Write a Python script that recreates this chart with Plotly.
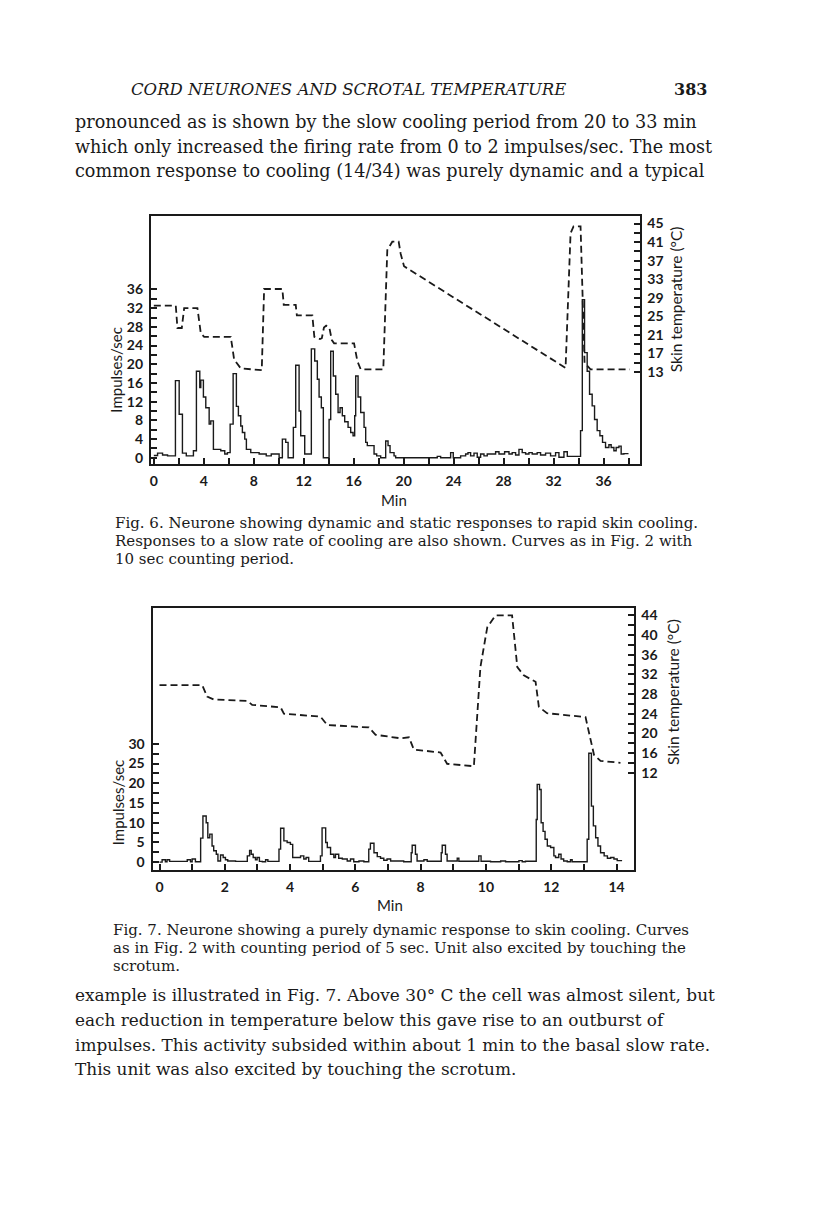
import plotly.graph_objects as go

W, H = 816, 1215

# ---- Fig. 6 data (min, impulses/sec as 10 s counts; skin temperature) ----
f6_imp_t = [0.0, 0.3, 0.7, 1.1, 1.73, 2.03, 2.29, 2.6, 3.17, 3.41, 3.68, 3.76, 3.97, 4.16,
            4.43, 4.56, 4.77, 5.36, 5.68, 5.89, 6.11, 6.35, 6.61, 6.77, 6.96, 7.09, 7.28,
            7.41, 7.76, 8.43, 9.0, 9.4, 9.89, 10.03, 10.29, 10.56, 10.75, 11.17, 11.36,
            11.63, 11.76, 12.08, 12.61, 12.88, 13.09, 13.23, 13.41, 13.57, 14.03, 14.16,
            14.37, 14.56, 14.75, 14.91, 15.09, 15.28, 15.55, 15.76, 15.95, 16.08, 16.16,
            16.35, 16.56, 16.83, 16.96, 17.09, 17.63, 17.84, 18.16, 18.56, 18.75, 18.91,
            19.23, 19.36, 22.69, 22.96, 23.76, 23.97, 24.56, 24.96, 25.15, 25.36, 25.63,
            25.89, 26.16, 26.43, 26.69, 27.36, 27.63, 28.08, 28.43, 28.69, 28.96, 29.23,
            29.49, 29.76, 30.03, 30.29, 30.69, 30.96, 31.36, 31.76, 32.16, 32.43, 32.83,
            33.1, 34.16, 34.3, 34.48, 34.69, 34.88, 35.09, 35.28, 35.49, 35.71, 35.92,
            36.16, 36.43, 36.61, 36.83, 37.01, 37.23, 37.41, 37.63, 38.0]
f6_imp_v = [0.5, 1.0, 0.6, 0.4, 16.5, 9.3, 1.0, 0.4, 1.5, 18.5, 15.0, 16.6, 13.0, 10.7,
            7.2, 7.9, 1.8, 1.5, 0.8, 1.1, 7.2, 18.0, 11.0, 9.0, 6.8, 5.4, 4.0,
            1.8, 1.1, 0.8, 0.4, 0.8, 0.8, 0.0, 4.0, 3.3, 0.0, 6.5, 19.8,
            10.0, 4.7, 0.8, 23.3, 20.7, 16.8, 13.0, 10.7, 0.0, 8.2, 22.8,
            17.5, 13.6, 9.7, 10.7, 9.0, 7.7, 6.5, 5.4, 4.7, 9.0, 17.5,
            13.0, 9.7, 6.5, 3.3, 2.6, 0.8, 0.4, 0.0, 3.6, 2.6, 1.1,
            0.4, 0.0, 0.3, 0.0, 1.1, 0.0, 0.4, 0.8, 1.1, 0.4, 1.0,
            0.1, 0.8, 0.4, 0.8, 1.3, 0.8, 1.3, 0.8, 1.1, 0.6, 1.8,
            1.1, 0.8, 1.1, 0.8, 1.1, 0.6, 1.0, 0.4, 1.1, 0.1, 1.3,
            0.3, 5.8, 33.8, 22.5, 18.5, 13.6, 11.1, 8.2, 5.8, 4.7, 3.3,
            2.2, 2.8, 2.2, 1.5, 2.2, 2.5, 0.8, 0.9, 0.9]

f6_temp_t = [0.0, 1.76, 1.89, 2.24, 2.43, 3.49, 3.76, 4.03, 6.16, 6.43, 6.96, 8.64, 8.83,
             10.29, 10.4, 11.36, 11.45, 12.69, 12.85, 13.3, 13.45, 13.62, 13.8, 14.05,
             14.25, 14.43, 16.03, 16.29, 16.56, 18.37, 18.69, 19.09, 19.6, 19.76, 20.03,
             32.96, 33.36, 33.6, 34.16, 34.48, 34.96, 38.11]
f6_temp_v = [27.3, 27.3, 22.5, 22.5, 26.8, 26.8, 21.4, 20.6, 20.6, 15.7, 13.8, 13.4, 30.9,
             30.9, 27.5, 27.5, 25.2, 25.2, 20.6, 20.1, 20.3, 22.6, 23.0, 22.6,
             19.9, 19.2, 19.2, 15.4, 13.6, 13.6, 39.3, 41.1, 41.1, 38.5, 35.8,
             13.9, 42.9, 44.4, 44.4, 15.0, 13.6, 13.6]

# ---- Fig. 7 data (5 s counting period) ----
f7_imp_t = [0.0, 0.08, 0.18, 0.23, 0.31, 0.85, 0.95, 1.0, 1.1, 1.26, 1.33, 1.43, 1.48, 1.54,
            1.61, 1.66, 1.74, 1.79, 1.87, 1.95, 2.02, 2.09, 2.33, 2.69, 2.76, 2.81, 2.87,
            2.94, 2.99, 3.06, 3.15, 3.25, 3.32, 3.66, 3.71, 3.81, 3.91, 4.01, 4.08, 4.32,
            4.42, 4.49, 4.57, 4.93, 4.98, 5.09, 5.14, 5.24, 5.34, 5.39, 5.49, 5.6, 5.75,
            5.85, 5.95, 6.11, 6.26, 6.41, 6.46, 6.57, 6.67, 6.77, 6.87, 6.97, 7.08, 7.48,
            7.71, 7.74, 7.84, 7.89, 8.1, 8.2, 8.63, 8.66, 8.76, 8.81, 9.12, 9.17, 9.78,
            9.85, 10.14, 10.45, 10.6, 11.01, 11.11, 11.21, 11.54, 11.57, 11.64, 11.69,
            11.75, 11.81, 11.88, 11.98, 12.08, 12.13, 12.23, 12.3, 12.38, 12.49, 12.59,
            12.64, 13.1, 13.15, 13.23, 13.29, 13.36, 13.43, 13.51, 13.62, 13.72, 13.82,
            13.92, 14.02, 14.17]
f7_imp_v = [0.0, 0.6, 0.1, 0.6, 0.2, 0.6, 0.1, 0.8, 0.1, 6.1, 11.7, 10.0, 6.2, 7.1,
            4.1, 2.9, 2.0, 0.3, 1.8, 1.2, 0.6, 0.3, 0.2, 1.6, 3.0, 2.0, 1.2,
            0.6, 1.2, 0.2, 0.1, 0.6, 0.2, 3.3, 8.6, 5.4, 5.0, 4.5, 1.2, 1.6,
            0.8, 1.2, 0.2, 1.6, 8.7, 5.0, 3.7, 2.0, 1.2, 2.0, 1.0, 0.8, 0.3,
            0.8, 0.1, 0.3, 0.1, 3.3, 4.8, 2.4, 1.4, 1.0, 0.5, 0.8, 0.3, 0.1,
            2.4, 4.3, 2.0, 0.3, 0.6, 0.25, 2.4, 4.3, 2.0, 0.3, 1.0, 0.25, 1.6,
            0.25, 0.1, 0.3, 0.1, 0.4, 0.1, 0.25, 10.8, 19.7, 18.4, 10.0,
            7.8, 5.8, 4.1, 3.7, 1.6, 1.2, 2.0, 0.8, 0.3, 0.1, 0.6,
            0.1, 5.8, 27.6, 14.2, 9.2, 6.2, 4.1, 2.4, 1.6, 1.0, 1.2,
            0.8, 0.4, 0.4]

f7_temp_t = [0.0, 1.31, 1.46, 1.66, 2.69, 2.84, 3.71, 3.81, 4.93, 5.14, 6.41, 6.62, 7.38,
             7.64, 7.79, 8.61, 8.81, 9.63, 9.83, 10.04, 10.29, 10.8, 10.96, 11.16, 11.52,
             11.62, 11.87, 13.05, 13.31, 13.51, 14.12]
f7_temp_v = [29.8, 29.8, 27.5, 26.9, 26.6, 25.8, 25.3, 24.0, 23.4, 21.7, 21.2, 19.7, 19.0,
             19.2, 16.7, 16.1, 13.8, 13.3, 33.5, 41.6, 44.0, 44.0, 33.5, 31.8, 30.5,
             25.4, 24.1, 23.3, 15.6, 14.4, 14.0]

f6_imp_ticks = [0, 4, 8, 12, 16, 20, 24, 28, 32, 36]
f6_temp_ticks = [13, 17, 21, 25, 29, 33, 37, 41, 45]
f6_min_ticks = [0, 4, 8, 12, 16, 20, 24, 28, 32, 36]
f7_imp_ticks = [0, 5, 10, 15, 20, 25, 30]
f7_temp_ticks = [12, 16, 20, 24, 28, 32, 36, 40, 44]
f7_min_ticks = [0, 2, 4, 6, 8, 10, 12, 14]

header = "CORD NEURONES AND SCROTAL TEMPERATURE"
page_no = "383"
top_lines = [
    "pronounced as is shown by the slow cooling period from 20 to 33 min",
    "which only increased the firing rate from 0 to 2 impulses/sec. The most",
    "common response to cooling (14/34) was purely dynamic and a typical",
]
cap6 = [
    "Fig. 6. Neurone showing dynamic and static responses to rapid skin cooling.",
    "Responses to a slow rate of cooling are also shown. Curves as in Fig. 2 with",
    "10 sec counting period.",
]
cap7 = [
    "Fig. 7. Neurone showing a purely dynamic response to skin cooling. Curves",
    "as in Fig. 2 with counting period of 5 sec. Unit also excited by touching the",
    "scrotum.",
]
bottom_lines = [
    "example is illustrated in Fig. 7. Above 30° C the cell was almost silent, but",
    "each reduction in temperature below this gave rise to an outburst of",
    "impulses. This activity subsided within about 1 min to the basal slow rate.",
    "This unit was also excited by touching the scrotum.",
]

INK = "#1a1a1a"
SANS = "Lato"
SERIF = "DejaVu Serif"

fig = go.Figure()
fig.add_trace(go.Scatter(x=f6_imp_t, y=f6_imp_v, mode="lines", line_shape="hv",
                         line=dict(color=INK, width=1.4), xaxis="x", yaxis="y"))
fig.add_trace(go.Scatter(x=f6_temp_t, y=f6_temp_v, mode="lines",
                         line=dict(color=INK, width=1.8, dash="7px,4px"), xaxis="x", yaxis="y2"))
fig.add_trace(go.Scatter(x=f7_imp_t, y=f7_imp_v, mode="lines", line_shape="hv",
                         line=dict(color=INK, width=1.4), xaxis="x2", yaxis="y3"))
fig.add_trace(go.Scatter(x=f7_temp_t, y=f7_temp_v, mode="lines",
                         line=dict(color=INK, width=1.8, dash="7px,4px"), xaxis="x2", yaxis="y4"))


def px(x):
    return x / W


def py(y):
    return 1 - y / H


tickfont = dict(family=SANS, size=14, color=INK, weight="bold")
common = dict(showgrid=False, zeroline=False, showline=True, linecolor=INK, linewidth=2,
              ticks="inside", ticklen=6, tickwidth=1.5, tickcolor=INK, tickfont=tickfont,
              tickmode="array", fixedrange=True)


def minor(vals):
    return dict(tickmode="array", tickvals=vals, ticks="inside", ticklen=6, tickwidth=1.5,
                tickcolor=INK, showgrid=False)


f6_dom_x = [px(150), px(639.3)]
f6_dom_y = [py(463.3), py(214.3)]
f7_dom_x = [px(151.7), px(633.3)]
f7_dom_y = [py(871), py(608.5)]

fig.update_layout(
    width=W, height=H, margin=dict(l=0, r=0, t=0, b=0),
    paper_bgcolor="white", plot_bgcolor="white", showlegend=False,
    xaxis=dict(common, domain=f6_dom_x, anchor="y", range=[-0.24, 38.88], mirror=True,
               tickvals=f6_min_ticks, minor=minor([2, 6, 10, 14, 18, 22, 26, 30, 34, 38]),
               ticklabelstandoff=3),
    yaxis=dict(common, domain=f6_dom_y, anchor="x", range=[-1.28, 51.8],
               tickvals=f6_imp_ticks, minor=minor([2, 6, 10, 14, 18, 22, 26, 30, 34]),
               ticklabelstandoff=3),
    yaxis2=dict(common, overlaying="y", side="right", anchor="x", range=[-6.76, 46.72],
                tickvals=f6_temp_ticks, minor=minor([15, 19, 23, 27, 31, 35, 39, 43]),
                ticklabelstandoff=3),
    xaxis2=dict(common, domain=f7_dom_x, anchor="y3", range=[-0.214, 14.52], mirror=True,
                tickvals=f7_min_ticks, minor=minor([1, 3, 5, 7, 9, 11, 13]),
                ticklabelstandoff=3),
    yaxis3=dict(common, domain=f7_dom_y, anchor="x2", range=[-2.02, 64.28],
                tickvals=f7_imp_ticks, minor=minor([2.5, 7.5, 12.5, 17.5, 22.5, 27.5]),
                ticklabelstandoff=3),
    yaxis4=dict(common, overlaying="y3", side="right", anchor="x2", range=[-7.85, 45.42],
                tickvals=f7_temp_ticks, minor=minor([14, 18, 22, 26, 30, 34, 38, 42]),
                ticklabelstandoff=3),
)

ann = []


def txt(s, x, y, size, family=SERIF, xanchor="left", angle=0, italic=False, weight="normal"):
    ann.append(dict(text=s, x=px(x), y=py(y), xref="paper", yref="paper", showarrow=False,
                    xanchor=xanchor, yanchor="middle", textangle=angle,
                    font=dict(family=family, size=size, color=INK,
                              style="italic" if italic else "normal", weight=weight)))


txt(header, 128, 88, 16.5, italic=True)
txt(page_no, 709, 88, 16, xanchor="right", weight="bold")
for i, s in enumerate(top_lines):
    txt(s, 72, 120 + 25 * i, 17.6)
for i, s in enumerate(cap6):
    txt(s, 112, 523 + 18 * i, 15)
for i, s in enumerate(cap7):
    txt(s, 110, 931 + 18 * i, 15)
for i, s in enumerate(bottom_lines):
    txt(s, 72, 996 + 25 * i, 16.9)

# axis titles
txt("Impulses/sec", 115, 369, 15, family=SANS, xanchor="center", angle=-90)
txt("Skin temperature (°C)", 676, 298, 15.5, family=SANS, xanchor="center", angle=-90)
txt("Min", 393, 500, 15, family=SANS, xanchor="center")
txt("Impulses/sec", 117, 803, 15, family=SANS, xanchor="center", angle=-90)
txt("Skin temperature (°C)", 673, 692, 15.5, family=SANS, xanchor="center", angle=-90)
txt("Min", 389, 906, 15, family=SANS, xanchor="center")

fig.update_layout(annotations=ann)
fig.write_html("out.html", config={"displayModeBar": False},
               post_script="document.body.style.margin='0';")
